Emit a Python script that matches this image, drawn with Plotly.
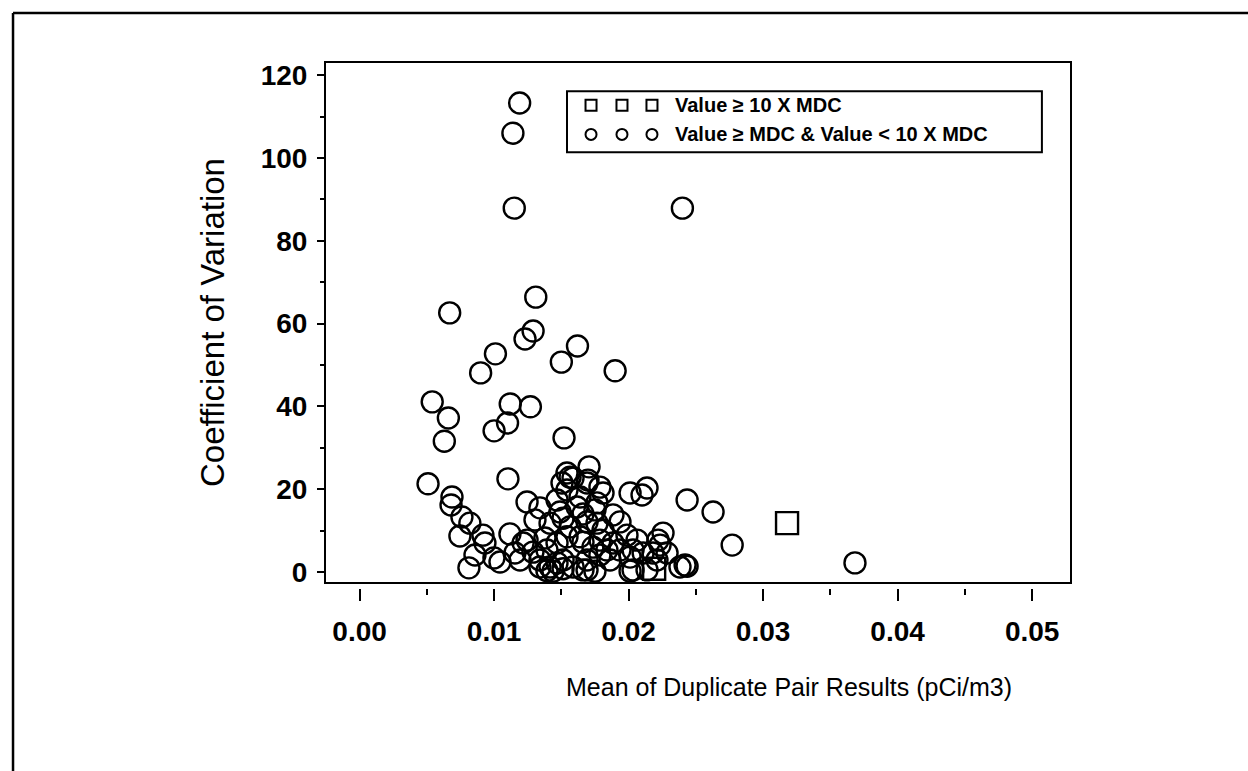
import plotly.graph_objects as go

# Duplicate pair results: mean (pCi/m3) and coefficient of variation
high_mean = [0.03178, 0.0219]
high_cv = [11.8, 0.8]

low_mean = [
    0.0119, 0.0114, 0.0115, 0.0240, 0.0131, 0.0067, 0.0129, 0.0123, 0.0162, 0.0101,
    0.0150, 0.0090, 0.0190, 0.0054, 0.0112, 0.0127, 0.0066, 0.0110, 0.0100, 0.0152,
    0.0063,
    0.01706, 0.01542, 0.01565, 0.01587, 0.01103, 0.01698, 0.01505, 0.00509, 0.01691, 0.01787,
    0.02137, 0.02011, 0.01810, 0.02100, 0.00687, 0.02435, 0.01245, 0.00680, 0.01341, 0.01617,
    0.01750, 0.01490, 0.02628, 0.01884, 0.00761, 0.01513, 0.01304, 0.01936, 0.01691, 0.00820,
    0.01416, 0.01765, 0.01565, 0.01810, 0.02256, 0.01118, 0.01988, 0.00917, 0.00746, 0.01542,
    0.01639, 0.01378, 0.01245, 0.01661, 0.02063, 0.02219, 0.01787, 0.01216, 0.01468, 0.01884,
    0.00932, 0.02234, 0.02770, 0.01735, 0.01393, 0.01936, 0.01839, 0.02033, 0.01289, 0.01155,
    0.02181, 0.02108, 0.02286, 0.00858, 0.01787, 0.00999, 0.02011, 0.01513, 0.01691, 0.01862,
    0.02211, 0.01193, 0.01341, 0.01044, 0.01468, 0.03683, 0.02420, 0.02435, 0.01416, 0.01587,
    0.01341, 0.00813, 0.02382, 0.01393, 0.01438, 0.01661, 0.01750, 0.02033, 0.02011, 0.02137,
    0.01691, 0.01513, 0.01542, 0.01639, 0.01468, 0.01661, 0.01765,
]
low_cv = [
    113.3, 106.0, 87.9, 87.9, 66.4, 62.6, 58.2, 56.3, 54.6, 52.7,
    50.7, 48.1, 48.6, 41.1, 40.6, 39.9, 37.2, 36.0, 34.1, 32.4,
    31.6,
    25.4, 23.9, 22.9, 22.7, 22.5, 22.2, 21.5, 21.3, 21.5, 20.5,
    20.3, 19.1, 19.1, 18.6, 18.1, 17.4, 16.9, 16.2, 15.5, 15.7,
    15.0, 14.5, 14.5, 13.8, 13.3, 13.0, 12.6, 12.1, 12.1, 11.8,
    11.8, 11.8, 10.9, 10.1, 9.4, 9.2, 8.9, 8.9, 8.7, 8.5,
    8.5, 8.2, 7.7, 7.2, 7.7, 7.7, 7.7, 7.0, 7.0, 7.0,
    7.0, 6.5, 6.5, 6.0, 5.3, 5.3, 5.3, 5.3, 4.8, 4.6,
    4.6, 4.6, 4.6, 4.1, 4.1, 3.4, 3.6, 2.9, 2.9, 2.9,
    2.9, 2.9, 2.9, 2.4, 2.2, 2.2, 1.7, 1.4, 1.2, 1.2,
    1.2, 1.0, 1.2, 0.3, 0.2, 0.5, 0.2, 0.5, 0.2, 0.5,
    0.5, 0.8, 19.8, 18.1, 17.4, 14.0, 16.7,
]

x_ticks = [0.00, 0.01, 0.02, 0.03, 0.04, 0.05]
x_tick_text = ["0.00", "0.01", "0.02", "0.03", "0.04", "0.05"]
y_ticks = [0, 20, 40, 60, 80, 100, 120]

x_title = "Mean of Duplicate Pair Results (pCi/m3)"
y_title = "Coefficient of Variation"
legend_labels = ["Value \u2265 10 X MDC", "Value \u2265 MDC & Value < 10 X MDC"]

FONT = "Liberation Sans, Arial, sans-serif"
INK = "black"

fig = go.Figure()

fig.add_trace(go.Scatter(
    x=low_mean, y=low_cv, mode="markers", name=legend_labels[1],
    marker=dict(symbol="circle-open", size=21, color=INK, line=dict(width=2.4, color=INK)),
    cliponaxis=False, showlegend=False,
))
fig.add_trace(go.Scatter(
    x=high_mean, y=high_cv, mode="markers", name=legend_labels[0],
    marker=dict(symbol="square-open", size=22, color=INK, line=dict(width=2.4, color=INK)),
    cliponaxis=False, showlegend=False,
))

shapes = []
# plot frame
shapes.append(dict(type="rect", xref="x domain", yref="y domain", x0=0, x1=1, y0=0, y1=1,
                   line=dict(color=INK, width=2)))
# page border (top and left edges)
shapes.append(dict(type="line", xref="paper", yref="paper", x0=-0.4182, x1=1.24, y0=1.0932, y1=1.0932,
                   line=dict(color=INK, width=2.5)))
shapes.append(dict(type="line", xref="paper", yref="paper", x0=-0.4182, x1=-0.4182, y0=1.0932, y1=-0.36,
                   line=dict(color=INK, width=2.5)))
# legend box
lx0, lx1, ly0, ly1 = 0.3244, 0.961, 0.827, 0.944
shapes.append(dict(type="rect", xref="x domain", yref="y domain", x0=lx0, x1=lx1, y0=ly0, y1=ly1,
                   line=dict(color=INK, width=2), fillcolor="white", layer="above"))

row_y = [0.917, 0.861]
sym_x = [0.3566, 0.3981, 0.4383]
half = 5.5
for sx in sym_x:
    shapes.append(dict(type="rect", xref="x domain", yref="y domain", xsizemode="pixel", ysizemode="pixel",
                       xanchor=sx, yanchor=row_y[0], x0=-half, x1=half, y0=-half, y1=half,
                       line=dict(color=INK, width=2), layer="above"))
    shapes.append(dict(type="circle", xref="x domain", yref="y domain", xsizemode="pixel", ysizemode="pixel",
                       xanchor=sx, yanchor=row_y[1], x0=-half, x1=half, y0=-half, y1=half,
                       line=dict(color=INK, width=2), layer="above"))

annotations = []
for ry, lab in zip(row_y, legend_labels):
    annotations.append(dict(xref="x domain", yref="y domain", x=0.4665, y=ry, text=lab, showarrow=False,
                            xanchor="left", yanchor="middle",
                            font=dict(family=FONT, size=20, color=INK, weight="bold")))
# horizontal axis label, set under the right-hand part of the axis
annotations.append(dict(xref="x domain", yref="y domain", x=0.622, y=-0.1996, text=x_title,
                        showarrow=False, xanchor="center", yanchor="middle",
                        font=dict(family=FONT, size=25, color=INK)))

fig.update_layout(
    width=1248, height=771,
    margin=dict(l=325, r=177, t=62, b=183, autoexpand=False),
    paper_bgcolor="white", plot_bgcolor="white",
    shapes=shapes, annotations=annotations,
    showlegend=False,
    xaxis=dict(
        range=[-0.00257, 0.05289], anchor="free", position=0,
        tickmode="array", tickvals=x_ticks, ticktext=x_tick_text,
        ticks="outside", ticklen=12, tickwidth=2, tickcolor=INK,
        minor=dict(dtick=0.005, tick0=0, ticks="outside", ticklen=6, tickwidth=2, tickcolor=INK),
        showgrid=False, zeroline=False, showline=False,
        tickfont=dict(family=FONT, size=28, color=INK, weight="bold"),
        ticklabelstandoff=6,
    ),
    yaxis=dict(
        range=[-2.66, 123.2], domain=[0.0095, 1],
        tickmode="array", tickvals=y_ticks,
        ticks="outside", ticklen=7, tickwidth=2, tickcolor=INK,
        minor=dict(dtick=10, tick0=0, ticks="outside", ticklen=4, tickwidth=2, tickcolor=INK),
        showgrid=False, zeroline=False, showline=False,
        tickfont=dict(family=FONT, size=28, color=INK, weight="bold"),
        ticklabelstandoff=4,
        title=dict(text=y_title, standoff=26,
                   font=dict(family=FONT, size=33, color=INK)),
    ),
)

fig.write_html("out.html")
